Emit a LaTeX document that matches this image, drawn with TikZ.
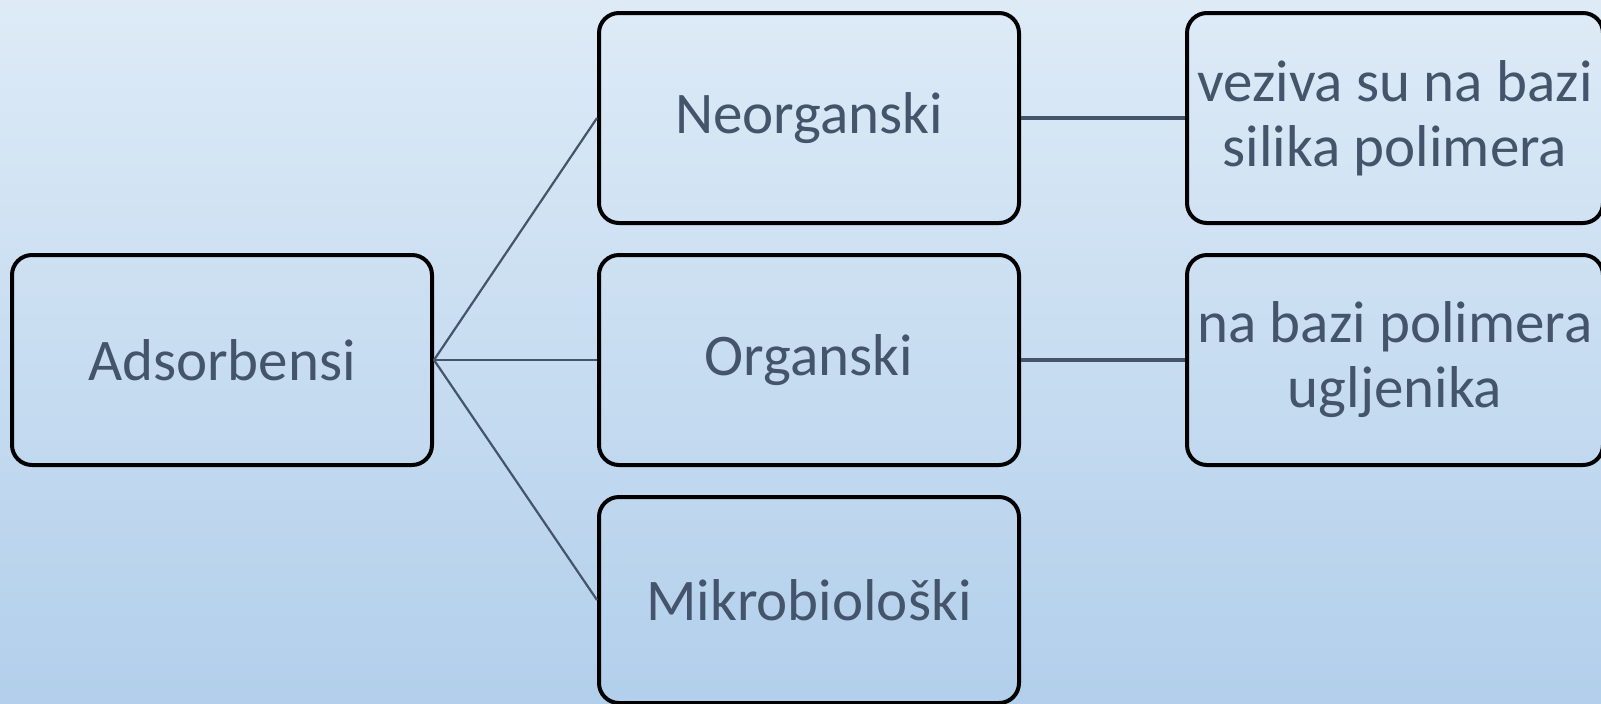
\documentclass[tikz,border=0pt]{standalone}
\usepackage{fontspec}
\setmainfont{Carlito}
\usetikzlibrary{shapes}
\definecolor{txtcol}{RGB}{68,84,106}
\definecolor{bgtop}{RGB}{222,235,247}
\definecolor{bgbot}{RGB}{178,207,235}
\tikzset{
  box/.style={draw=black, line width=2pt, rounded corners=10pt, align=center,
    text=txtcol, font=\fontsize{29.5}{32.5}\selectfont, inner sep=0pt},
  thin link/.style={draw=txtcol, line width=1.1pt},
  thick link/.style={draw=txtcol, line width=1.8pt}
}
\begin{document}
\begin{tikzpicture}[x=0.5pt,y=0.5pt,yscale=-1,xscale=1]
%Background
\shade [top color=bgtop, bottom color=bgbot] (0,0) rectangle (1601,703);
\useasboundingbox (0,0) rectangle (1601,703);

% Root Node
\node [box, minimum width=210pt, minimum height=105pt] (ads) at (222,360) {Adsorbensi};
% Middle Nodes
\node [box, minimum width=210pt, minimum height=105pt] (neo) at (809,118) {Neorganski};
\node [box, minimum width=210pt, minimum height=105pt] (org) at (809,360) {Organski};
\node [box, minimum width=210pt, minimum height=103pt] (mik) at (809,600) {Mikrobiološki};
% Right Nodes
\node [box, minimum width=208pt, minimum height=105pt] (sil) at (1395,118) {veziva su na bazi\\silika polimera};
\node [box, minimum width=208pt, minimum height=105pt] (ugl) at (1395,360) {na bazi polimera\\ugljenika};

%Straight Lines
\draw [thin link] (ads.east) -- (neo.west);
\draw [thin link] (ads.east) -- (org.west);
\draw [thin link] (ads.east) -- (mik.west);
\draw [thick link] (neo.east) -- (sil.west);
\draw [thick link] (org.east) -- (ugl.west);
\end{tikzpicture}
\end{document}
